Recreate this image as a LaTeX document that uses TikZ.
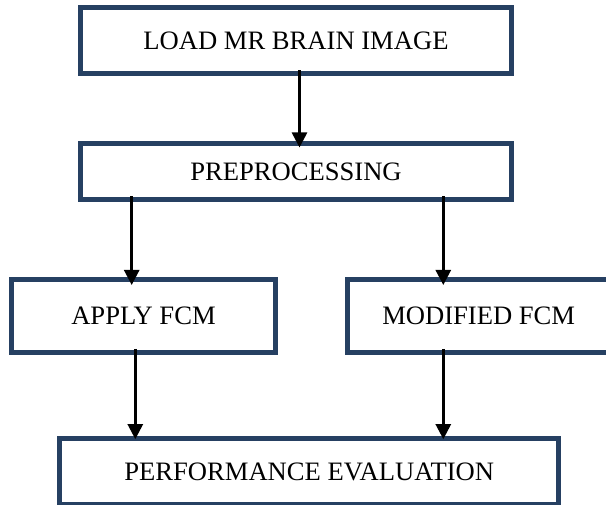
\documentclass[tikz,border=0pt]{standalone}
\usepackage{fontspec}
\setmainfont{Liberation Serif}
\usetikzlibrary{arrows.meta}
\definecolor{boxblue}{RGB}{38,64,98}
\begin{document}
\begin{tikzpicture}[x=1pt,y=-1pt,
  stepbox/.style={draw=boxblue, line width=5pt, fill=white, inner sep=0pt,
    font=\fontsize{26.6}{30}\selectfont},
  arr/.style={draw=black, line width=2.6pt, -{Triangle[width=15pt,length=15pt]}}]
\useasboundingbox (0,0) rectangle (606,505);
\clip (0,0) rectangle (606,505);
\node[stepbox, minimum width=431pt, minimum height=66pt] (b1) at (296,40.5) {LOAD MR BRAIN IMAGE};
\node[stepbox, minimum width=431pt, minimum height=56pt] (b2) at (296,171.5) {PREPROCESSING};
\node[stepbox, minimum width=264pt, minimum height=73pt] (b3) at (143.5,316) {APPLY FCM};
\node[stepbox, minimum width=263pt, minimum height=73pt] (b4) at (478.7,316) {MODIFIED FCM};
\node[stepbox, minimum width=498.7pt, minimum height=66pt] (b5) at (309.2,471.5) {PERFORMANCE EVALUATION};
\draw[arr] ([xshift=3.5pt,yshift=5.5pt]b1.south) -- ([xshift=3.5pt,yshift=-6.5pt]b2.north);
\draw[arr] ([xshift=-164.3pt,yshift=5.5pt]b2.south) -- ([xshift=-11.8pt,yshift=-8pt]b3.north);
\draw[arr] ([xshift=147.3pt,yshift=5.5pt]b2.south) -- ([xshift=-35.4pt,yshift=-8pt]b4.north);
\draw[arr] ([xshift=-8.2pt,yshift=6pt]b3.south) -- ([xshift=-173.9pt,yshift=-3.2pt]b5.north);
\draw[arr] ([xshift=-35.4pt,yshift=6pt]b4.south) -- ([xshift=134.1pt,yshift=-3.2pt]b5.north);
\end{tikzpicture}
\end{document}
